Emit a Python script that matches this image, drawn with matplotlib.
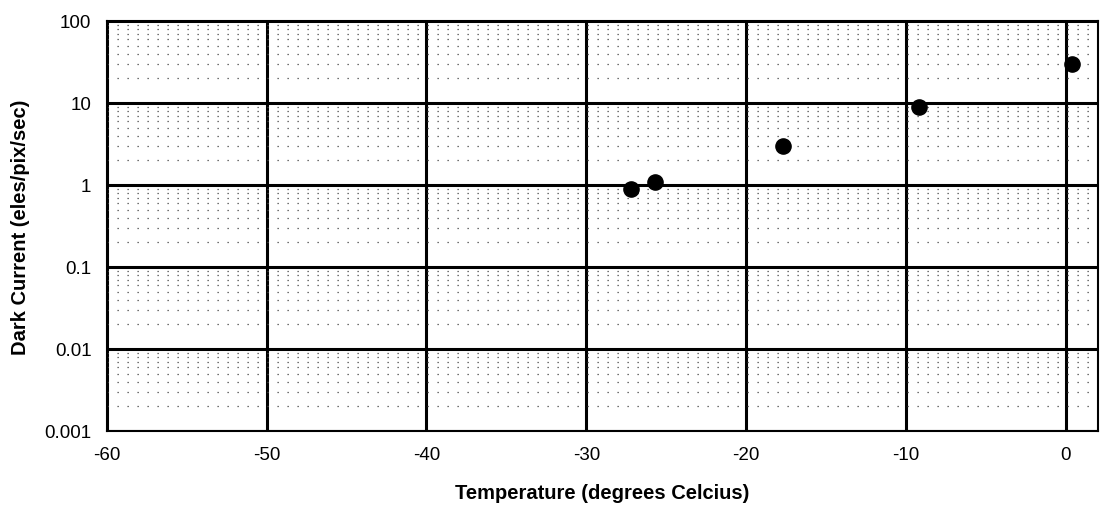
import matplotlib
matplotlib.use('Agg')
import matplotlib.pyplot as plt
from matplotlib.ticker import LogLocator, NullFormatter
import numpy as np

# measured points
temperature = [-27.2, -25.7, -17.7, -9.2, 0.4]
dark_current = [0.9, 1.1, 3.0, 8.8, 30.0]

x_ticks = [-60, -50, -40, -30, -20, -10, 0]
y_ticks = [0.001, 0.01, 0.1, 1, 10, 100]
y_tick_labels = ['0.001', '0.01', '0.1', '1', '10', '100']

plt.rcParams['font.family'] = ['Liberation Sans', 'DejaVu Sans']

fig = plt.figure(figsize=(11, 5.1), dpi=100)
ax = fig.add_axes([0.097, 0.153, 0.901, 0.804])

ax.set_yscale('log')
ax.set_xlim(-60, 2)
ax.set_ylim(0.001, 100)

ax.scatter(temperature, dark_current, s=120, color='black', zorder=5)

ax.set_xticks(x_ticks)
ax.set_xticklabels([str(t) for t in x_ticks], fontsize=13.5)
ax.set_yticks(y_ticks)
ax.set_yticklabels(y_tick_labels, fontsize=13.5)
ax.yaxis.set_minor_locator(LogLocator(base=10, subs=np.arange(2, 10)))
ax.yaxis.set_minor_formatter(NullFormatter())

ax.grid(True, which='major', color='black', lw=2.2)
ax.grid(True, which='minor', axis='y', color='#444444', lw=0.9, ls=(0, (1, 7)))
ax.tick_params(which='both', length=0)
ax.tick_params(axis='x', pad=11)
ax.tick_params(axis='y', pad=11)
for sp in ax.spines.values():
    sp.set_linewidth(1.5)

ax.set_xlabel('Temperature (degrees Celcius)', fontsize=14.5, fontweight='bold', labelpad=14)
ax.set_ylabel('Dark Current (eles/pix/sec)', fontsize=14.5, fontweight='bold', labelpad=10)

fig.savefig('out.png', dpi=100)
